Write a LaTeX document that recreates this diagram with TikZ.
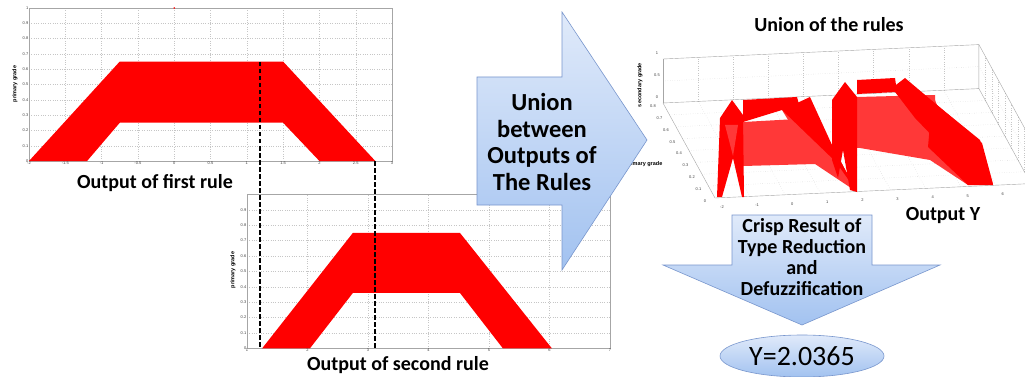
\documentclass[tikz,border=0pt]{standalone}
\usepackage{fontspec}
\setmainfont{Carlito}
\newfontfamily\tickfont{Liberation Sans}
\usetikzlibrary{shapes.geometric,positioning}
\definecolor{arrowtop}{RGB}{224,234,250}
\definecolor{arrowbot}{RGB}{162,194,240}
\definecolor{arrowedge}{RGB}{120,150,205}
\tikzset{
  plotgrid/.style={draw=gray!45, dotted, line width=0.35pt},
  plotframe/.style={draw=gray!70, line width=0.4pt},
  ticklab/.style={font=\tickfont\fontsize{4}{4}\selectfont, inner sep=0.5pt, text=black!75},
  axlab/.style={font=\tickfont\bfseries\fontsize{5.5}{5.5}\selectfont, inner sep=0pt},
  mf/.style={fill=red, draw=none},
  mfhatch/.style={fill=red!78, draw=none},
  guide/.style={draw=black, line width=1.4pt, dash pattern=on 4.5pt off 2.5pt},
  blockarrow/.style={draw=arrowedge, line width=0.6pt, top color=arrowtop, bottom color=arrowbot},
  caption/.style={font=\bfseries\fontsize{20}{20}\selectfont, inner sep=0pt},
}
\begin{document}
\begin{tikzpicture}[x=1pt, y=-1pt]
  \clip (0,0) rectangle (1025,377);
  \fill[white] (0,0) rectangle (1025,377);

  % output of the first rule
  \begin{scope}[shift={(174.2,161)}, x=72.6pt, y=153pt]
    \foreach \u in {-1.5,-1,...,2.5} \draw[plotgrid] (\u,0) -- (\u,1);
    \foreach \v in {0.1,0.2,...,0.95} \draw[plotgrid] (-2,\v) -- (3,\v);
    \draw[plotframe] (-2,0) rectangle (3,1);
    \fill[mf] (-2,0) -- (-0.75,0.65) -- (1.5,0.65) -- (2.77,0) -- (2,0)
      -- (1.5,0.25) -- (-0.75,0.25) -- (-1.2,0) -- cycle;
    \fill[red] (0,1) circle (0.8pt);
    \foreach \u [count=\i] in {-2,-1.5,-1,-0.5,0,0.5,1,1.5,2,2.5,3}
      \node[ticklab, below] (ax\i) at (\u,0) {\u};
    \foreach \v [count=\i] in {0,0.1,0.2,0.3,0.4,0.5,0.6,0.7,0.8,0.9,1}
      \node[ticklab, left] (ay\i) at (-2,\v) {\v};
  \end{scope}
  \node[axlab, rotate=90] (agrade) at (15,84) {primary grade};
  \node[caption] (acap) at (155,183) {Output of first rule};

  % output of the second rule
  \begin{scope}[shift={(186.5,348.4)}, x=60.5pt, y=154pt]
    \foreach \u in {2,...,6} \draw[plotgrid] (\u,0) -- (\u,1);
    \foreach \v in {0.1,0.2,...,0.95} \draw[plotgrid] (1,\v) -- (7,\v);
    \draw[plotframe] (1,0) rectangle (7,1);
    \fill[mf] (1.25,0) -- (2.75,0.75) -- (4.52,0.75) -- (6.04,0) -- (5.23,0)
      -- (4.52,0.36) -- (2.75,0.36) -- (2.04,0) -- cycle;
    \foreach \u [count=\i] in {1,...,7}
      \node[ticklab, below] (bx\i) at (\u,0) {\u};
    \foreach \v [count=\i] in {0,0.1,0.2,0.3,0.4,0.5,0.6,0.7,0.8,0.9}
      \node[ticklab, left] (by\i) at (1,\v) {\v};
  \end{scope}
  \node[axlab, rotate=90] (bgrade) at (233,270) {primary grade};
  \node[caption] (bcap) at (398,365) {Output of second rule};

  \coordinate (g1top) at (260,62);
  \coordinate (g1bot) at (260,348);
  \coordinate (g2top) at (375,161);
  \coordinate (g2bot) at (375,348);
  \draw[guide] (g1top) -- (g1bot);
  \draw[guide] (g2top) -- (g2bot);

  % union of the rules, 3d view
  \begin{scope}[shift={(785.2,194.8)}, x={(35.1pt,1.6pt)}, y={(-65pt,118.75pt)}, z={(0pt,44pt)}]
    \foreach \u in {-1,...,6} {
      \draw[plotgrid] (\u,0.8,0) -- (\u,0.8,1);
      \draw[plotgrid] (\u,0,0) -- (\u,0.8,0);
    }
    \draw[plotgrid] (-2,0.8,0.5) -- (7,0.8,0.5);
    \foreach \p in {0.1,0.2,...,0.75} {
      \draw[plotgrid] (-2,\p,0) -- (7,\p,0);
      \draw[plotgrid] (7,\p,0) -- (7,\p,1);
    }
    \draw[plotgrid] (7,0,0.5) -- (7,0.8,0.5);
    \draw[plotframe] (-2,0.8,1) -- (7,0.8,1) -- (7,0,1);
    \draw[plotframe] (-2,0.8,0) -- (7,0.8,0) -- (7,0.8,1);
    \draw[plotframe] (-2,0.8,0) -- (-2,0.8,1);
    \draw[plotframe] (-2,0,0) -- (-2,0.8,0);
    \draw[plotframe] (-2,0,0) -- (7,0,0) -- (7,0.8,0);
    \foreach \u [count=\i] in {-2,...,6}
      \node[ticklab, xshift=7pt, yshift=-9pt] (cx\i) at (\u,0,0) {\u};
    \foreach \p [count=\i] in {0,0.1,0.2,0.3,0.4,0.5,0.6,0.7,0.8}
      \node[ticklab, xshift=-10pt, yshift=-3pt] (cy\i) at (-2,\p,0) {\p};
    \foreach \s [count=\i] in {0,0.5,1}
      \node[ticklab, xshift=-6pt, yshift=6pt] (cz\i) at (-2,0.8,\s) {\s};
  \end{scope}
  % surfaces
  \fill[mfhatch] (743,122) -- (815,118) -- (815,164) -- (743,166) -- cycle;
  \fill[mfhatch] (782,110) -- (832,145) -- (857,192) -- (815,164) -- cycle;
  \fill[mfhatch] (857,97) -- (935,95) -- (935,146) -- (857,148) -- cycle;
  \fill[mfhatch] (870,98) -- (935,100) -- (968,185) -- (930,160) -- (860,148) -- cycle;
  \fill[mf] (717,197) -- (720,118) -- (732,100) -- (743,115) -- (744,197) -- (742,197)
    -- (733,158) -- (722,197) -- cycle;
  \fill[mfhatch] (725,125) -- (738,125) -- (733,156) -- cycle;
  \fill[mf] (743,100) -- (797,97) -- (800,108) -- (782,110) -- (743,122) -- cycle;
  \fill[mf] (782,110) -- (810,97) -- (832,145) -- (857,192) -- (836,162) -- cycle;
  \fill[mf] (832,160) -- (832,100) -- (845,82) -- (857,97) -- (857,192) -- (850,190)
    -- (843,150) -- (838,178) -- cycle;
  \fill[mf] (857,80) -- (895,78) -- (897,92) -- (857,94) -- cycle;
  \fill[mf] (892,88) -- (905,78) -- (982,143) -- (993,184) -- (967,172) -- (915,118) -- cycle;
  \fill[mf] (928,147) -- (932,101) -- (980,140) -- (993,185) -- (968,185) -- cycle;
  \node[axlab, rotate=90] (csec) at (640,85) {secondary grade};
  \node[axlab] (cprim) at (644,164) {primary grade};
  \node[caption] (ccap) at (829,25) {Union of the rules};
  \node[caption] (cout) at (943,216) {Output Y};

  % union arrow
  \draw[blockarrow] (477,77) -- (562,77) -- (562,12) -- (647,140) -- (562,270)
    -- (562,205) -- (477,205) -- cycle;
  \node[font=\bfseries\fontsize{24.5}{26.7}\selectfont, align=center] (uniontxt) at (542,142)
    {Union\\between\\Outputs of\\The Rules};

  % type reduction arrow
  \draw[blockarrow] (732,215) -- (872,215) -- (872,265) -- (940,265) -- (802,325)
    -- (663,265) -- (732,265) -- cycle;
  \node[font=\bfseries\fontsize{20}{21}\selectfont, align=center] (crisptxt) at (802,257)
    {Crisp Result of\\Type Reduction\\and\\Defuzzification};

  \node[ellipse, blockarrow, minimum width=164pt, minimum height=42pt, inner sep=0pt,
    font=\fontsize{28}{28}\selectfont] (yres) at (802,356) {Y=2.0365};
\end{tikzpicture}
\end{document}
